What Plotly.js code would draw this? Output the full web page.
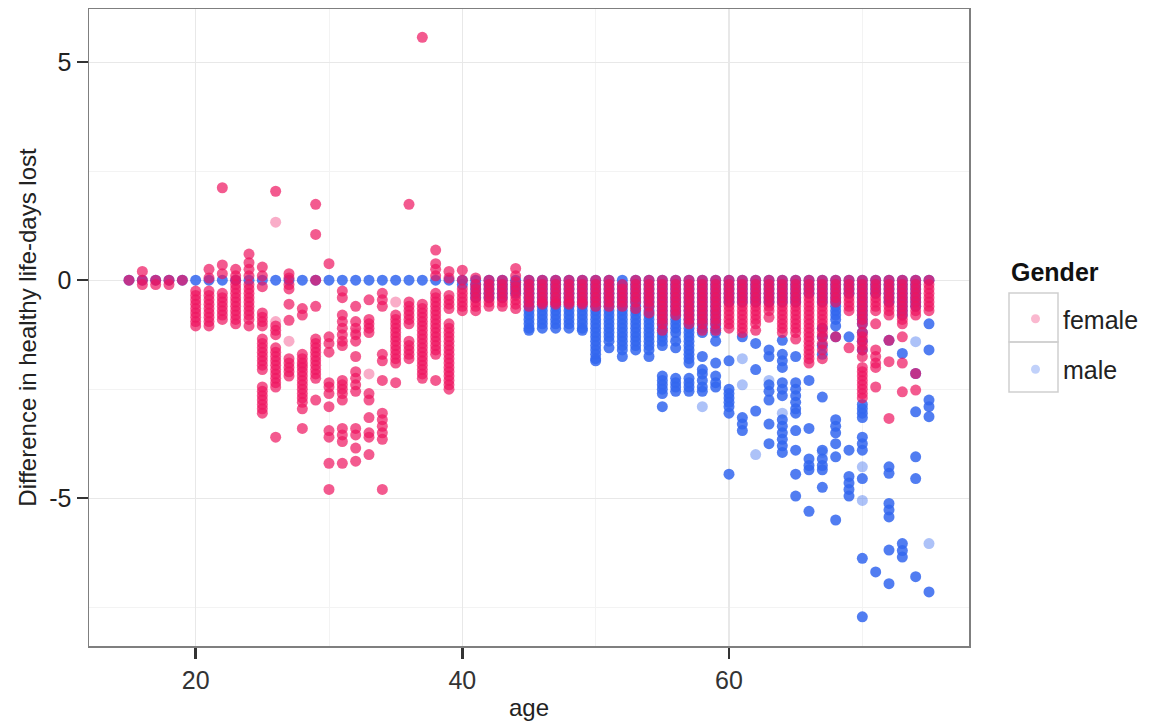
<!DOCTYPE html>
<html>
<head>
<meta charset="utf-8">
<script src="https://cdn.plot.ly/plotly-3.0.1.min.js"></script>
<style>html,body{margin:0;padding:0;background:#fff;}#chart{width:1154px;height:723px;}</style>
</head>
<body>
<div id="chart"></div>
<script>
// Ages (x categories, one column per integer age)
const ages = [15,16,17,18,19,20,21,22,23,24,25,26,27,28,29,30,31,32,33,34,35,36,37,38,39,40,41,42,43,44,45,46,47,48,49,50,51,52,53,54,55,56,57,58,59,60,61,62,63,64,65,66,67,68,69,70,71,72,73,74,75];

// Female values per age (same order as ages)
const femaleVals = [
  [0],
  [0.2,0,-0.1],
  [0,-0.1],
  [0,-0.1],
  [0],
  [-0.25,-0.35,-0.45,-0.55,-0.65,-0.75,-0.85,-0.95,-1.05],
  [0.25,0.05,-0.25,-0.35,-0.45,-0.55,-0.65,-0.75,-0.85,-0.95,-1.05],
  [2.12,0.35,0.15,-0.3,-0.4,-0.5,-0.6,-0.7,-0.8,-0.9],
  [0.25,0.1,0,-0.1,-0.2,-0.3,-0.4,-0.5,-0.6,-0.7,-0.8,-0.9,-1.0],
  [0.6,0.4,0.25,0.1,-0.1,-0.2,-0.3,-0.4,-0.5,-0.6,-0.7,-0.8,-0.9,-1.05],
  [0.3,0.1,-0.15,-0.75,-0.85,-0.95,-1.05,-1.35,-1.45,-1.55,-1.65,-1.75,-1.85,-1.95,-2.05,-2.45,-2.55,-2.65,-2.75,-2.85,-2.95,-3.05],
  [2.04,-1.05,-1.15,-1.25,-1.55,-1.65,-1.75,-1.85,-1.95,-2.05,-2.15,-2.25,-2.35,-2.45,-3.6],
  [0.15,0.05,-0.1,-0.2,-0.55,-0.92,-1.8,-1.9,-2.0,-2.1,-2.2],
  [-0.65,-0.8,-1.7,-1.8,-1.9,-2.0,-2.1,-2.2,-2.3,-2.4,-2.5,-2.6,-2.7,-2.8,-2.95,-3.4],
  [1.74,1.05,0,-0.6,-1.35,-1.45,-1.55,-1.65,-1.75,-1.85,-1.95,-2.05,-2.15,-2.25,-2.75],
  [0.38,-1.3,-1.45,-1.65,-2.35,-2.45,-2.6,-2.9,-3.45,-3.6,-4.2,-4.8],
  [-0.25,-0.4,-0.8,-0.95,-1.1,-1.25,-1.4,-1.5,-2.3,-2.4,-2.5,-2.6,-2.75,-3.4,-3.55,-3.7,-4.2],
  [-0.6,-0.95,-1.1,-1.25,-1.4,-1.75,-2.1,-2.25,-2.4,-2.55,-3.4,-3.55,-3.85,-4.15],
  [-0.45,-0.9,-1.0,-1.1,-1.2,-2.6,-2.75,-3.15,-3.5,-3.6,-4.0],
  [-0.3,-0.45,-0.6,-1.7,-1.85,-2.3,-3.05,-3.2,-3.35,-3.5,-3.65,-4.8],
  [-0.8,-0.9,-1.0,-1.1,-1.2,-1.3,-1.4,-1.5,-1.6,-1.7,-1.8,-1.9,-2.35],
  [1.74,-0.5,-0.6,-0.7,-0.8,-0.9,-1.0,-1.4,-1.5,-1.6,-1.7,-1.8],
  [5.57,-0.55,-0.65,-0.75,-0.85,-0.95,-1.05,-1.15,-1.25,-1.35,-1.45,-1.55,-1.65,-1.75,-1.85,-1.95,-2.05,-2.15,-2.25],
  [0.69,0.38,0.25,0.1,-0.3,-0.4,-0.5,-0.6,-0.7,-0.8,-0.9,-1.0,-1.1,-1.2,-1.3,-1.4,-1.5,-1.6,-1.7,-2.3],
  [0.2,0.05,-0.35,-0.45,-0.55,-0.65,-1.0,-1.1,-1.2,-1.3,-1.4,-1.5,-1.6,-1.7,-1.8,-1.9,-2.0,-2.1,-2.2,-2.3,-2.4,-2.5],
  [0.23,0,-0.2,-0.3,-0.4,-0.5,-0.6,-0.7],
  [0.05,-0.1,-0.2,-0.3,-0.4,-0.5,-0.6,-0.7],
  [0,-0.1,-0.2,-0.3,-0.4,-0.5,-0.6],
  [0,-0.1,-0.2,-0.3,-0.4,-0.5,-0.6],
  [0.27,0.1,-0.05,-0.15,-0.25,-0.35,-0.45,-0.55,-0.65],
  [0,-0.1,-0.2,-0.3,-0.4,-0.5,-0.6],
  [0,-0.1,-0.2,-0.3,-0.4,-0.5,-0.55],
  [0,-0.1,-0.2,-0.3,-0.4,-0.5,-0.55],
  [0,-0.1,-0.2,-0.3,-0.4,-0.5,-0.55],
  [0,-0.1,-0.2,-0.3,-0.4,-0.5,-0.55],
  [0,-0.1,-0.2,-0.3,-0.4,-0.5,-0.6],
  [0,-0.1,-0.2,-0.3,-0.4,-0.5,-0.6],
  [-0.1,-0.2,-0.3,-0.4,-0.5,-0.6],
  [0,-0.1,-0.2,-0.3,-0.4,-0.5,-0.65],
  [0,-0.1,-0.2,-0.3,-0.4,-0.5,-0.6,-0.75],
  [0,-0.1,-0.2,-0.3,-0.4,-0.5,-0.6,-0.7,-0.8,-0.9,-1.0,-1.15],
  [0,-0.1,-0.2,-0.3,-0.4,-0.5,-0.6,-0.7,-0.8],
  [0,-0.1,-0.2,-0.3,-0.4,-0.5,-0.6,-0.7,-0.8,-0.9,-1.0],
  [0,-0.1,-0.2,-0.3,-0.4,-0.5,-0.6,-0.7,-0.8,-0.9,-1.0,-1.15],
  [0,-0.1,-0.2,-0.3,-0.4,-0.5,-0.6,-0.7,-0.8,-0.9,-1.0,-1.15],
  [0,-0.1,-0.2,-0.3,-0.4,-0.5,-0.6,-0.7,-0.8,-0.9,-1.0,-1.1],
  [0,-0.1,-0.2,-0.3,-0.4,-0.5,-0.6,-0.7,-0.8,-0.9,-1.0,-1.1,-1.2],
  [0,-0.1,-0.2,-0.3,-0.4,-0.5,-0.6,-0.7,-0.8,-0.9,-1.0,-1.15],
  [0,-0.1,-0.2,-0.3,-0.4,-0.5,-0.6,-0.7,-0.85],
  [0,-0.1,-0.2,-0.3,-0.4,-0.5,-0.6,-0.7,-0.8,-0.9,-1.0,-1.1,-1.2],
  [0,-0.1,-0.2,-0.3,-0.4,-0.5,-0.6,-0.7,-0.8,-0.9,-1.0,-1.1,-1.2,-1.35],
  [0,-0.1,-0.2,-0.3,-0.4,-0.5,-0.6,-0.7,-0.8,-0.9,-1.0,-1.1,-1.2,-1.3,-1.4,-1.5,-1.6,-1.7,-1.8,-1.9],
  [0,-0.1,-0.2,-0.3,-0.4,-0.5,-0.6,-0.7,-0.8,-0.9,-1.0,-1.1,-1.2,-1.3,-1.45,-1.6,-1.8],
  [0,-0.1,-0.2,-0.3,-0.4,-0.5,-1.3],
  [0,-0.1,-0.2,-0.3,-0.4,-0.5,-0.6,-0.7,-1.55],
  [0,-0.1,-0.2,-0.3,-0.4,-0.5,-0.6,-0.7,-0.8,-0.9,-1.0,-1.2,-1.3,-1.4,-1.5,-1.6,-1.75,-2.0,-2.1,-2.2,-2.3,-2.4,-2.5,-2.6,-2.7],
  [0,-0.1,-0.2,-0.3,-0.4,-0.5,-0.6,-0.7,-1.0,-1.6,-1.75,-1.9,-2.0,-2.45],
  [0,-0.1,-0.2,-0.3,-0.4,-0.5,-0.6,-0.7,-0.8,-1.38,-1.87,-3.17],
  [0,-0.1,-0.2,-0.3,-0.4,-0.5,-0.6,-0.7,-0.8,-0.9,-1.0,-1.3,-1.9,-2.56],
  [0,-0.1,-0.2,-0.3,-0.4,-0.5,-0.6,-0.7,-0.8,-2.14,-2.52],
  [0,-0.1,-0.2,-0.3,-0.4,-0.5,-0.6,-0.7]
];

// Male values per age (same order as ages)
const maleVals = [
  [0],[0],[0],[0],[0],[0],[0],[0],[0],[0],
  [0],[0],[0],[0],[0],[0],[0],[0],[0],[0],
  [0],[0],[0],[0],[0],
  [0,-0.1],
  [0,-0.1,-0.2,-0.3,-0.4],
  [0,-0.1,-0.2,-0.3,-0.4],
  [0,-0.1,-0.2,-0.3,-0.4],
  [0,-0.1,-0.2,-0.3],
  [0,-0.1,-0.2,-0.3,-0.4,-0.5,-0.6,-0.7,-0.8,-0.9,-1.0,-1.1,-1.15],
  [0,-0.1,-0.2,-0.3,-0.4,-0.5,-0.6,-0.7,-0.8,-0.9,-1.0,-1.1],
  [0,-0.1,-0.2,-0.3,-0.4,-0.5,-0.6,-0.7,-0.8,-0.9,-1.0,-1.1],
  [0,-0.1,-0.2,-0.3,-0.4,-0.5,-0.6,-0.7,-0.8,-0.9,-1.0,-1.1],
  [0,-0.1,-0.2,-0.3,-0.4,-0.5,-0.6,-0.7,-0.8,-0.9,-1.0,-1.1,-1.15],
  [0,-0.1,-0.2,-0.3,-0.4,-0.5,-0.6,-0.7,-0.8,-0.9,-1.0,-1.1,-1.2,-1.3,-1.4,-1.5,-1.6,-1.7,-1.8,-1.85],
  [0,-0.1,-0.2,-0.3,-0.4,-0.5,-0.6,-0.7,-0.8,-0.9,-1.0,-1.1,-1.2,-1.3,-1.4,-1.55],
  [0,-0.1,-0.2,-0.3,-0.4,-0.5,-0.6,-0.7,-0.8,-0.9,-1.0,-1.1,-1.2,-1.3,-1.4,-1.5,-1.6,-1.75],
  [0,-0.1,-0.2,-0.3,-0.4,-0.5,-0.6,-0.7,-0.8,-0.9,-1.0,-1.1,-1.2,-1.3,-1.4,-1.5,-1.6],
  [0,-0.1,-0.2,-0.3,-0.4,-0.5,-0.6,-0.7,-0.8,-0.9,-1.0,-1.1,-1.2,-1.3,-1.4,-1.5,-1.6,-1.75],
  [0,-0.1,-0.2,-0.3,-0.4,-0.5,-0.6,-0.7,-0.8,-0.9,-1.0,-1.1,-1.2,-1.3,-1.4,-1.5,-2.2,-2.3,-2.4,-2.5,-2.6,-2.9],
  [0,-0.1,-0.2,-0.3,-0.4,-0.5,-0.6,-0.7,-0.8,-0.9,-1.0,-1.1,-1.2,-1.4,-1.55,-2.25,-2.35,-2.45,-2.55],
  [0,-0.1,-0.2,-0.3,-0.4,-0.5,-0.6,-0.7,-0.8,-0.9,-1.0,-1.1,-1.2,-1.3,-1.4,-1.5,-1.6,-1.7,-1.8,-1.9,-2.25,-2.35,-2.45,-2.55],
  [0,-0.1,-0.2,-0.3,-0.4,-0.5,-0.6,-0.7,-0.8,-0.9,-1.0,-1.1,-1.2,-1.75,-2.05,-2.15,-2.3,-2.45,-2.55],
  [0,-0.1,-0.2,-0.3,-0.4,-0.5,-0.6,-0.7,-0.8,-0.9,-1.0,-1.1,-1.2,-1.4,-1.9,-2.2,-2.35,-2.45],
  [0,-0.1,-0.2,-0.3,-0.4,-0.5,-1.85,-2.5,-2.6,-2.7,-2.8,-2.9,-3.05,-4.45],
  [0,-0.1,-0.2,-0.3,-0.4,-0.5,-1.3,-3.15,-3.3,-3.45],
  [0,-0.1,-0.2,-0.3,-0.4,-0.5,-1.45,-2.05,-3.0],
  [0,-0.1,-0.2,-0.3,-0.4,-0.5,-1.6,-1.75,-2.4,-2.55,-2.75,-3.3,-3.75],
  [0,-0.1,-0.2,-0.3,-0.4,-0.5,-1.38,-1.7,-1.85,-2.0,-2.35,-2.5,-2.65,-3.2,-3.35,-3.5,-3.65,-3.8,-3.95],
  [0,-0.1,-0.2,-0.3,-0.4,-0.5,-1.75,-2.35,-2.5,-2.65,-2.8,-2.95,-3.05,-3.45,-3.9,-4.45,-4.95],
  [0,-0.1,-0.2,-0.3,-2.3,-3.4,-4.1,-4.25,-4.35,-5.3],
  [0,-0.1,-0.2,-0.3,-0.4,-0.5,-1.1,-1.3,-1.5,-1.7,-2.68,-3.9,-4.1,-4.25,-4.35,-4.75],
  [0,-0.1,-0.2,-0.3,-0.4,-0.5,-0.6,-0.7,-0.8,-0.9,-1.05,-1.3,-3.2,-3.35,-3.5,-3.75,-4.05,-5.5],
  [0,-0.1,-0.2,-0.3,-1.3,-3.9,-4.5,-4.65,-4.8,-4.95],
  [0,-0.1,-0.2,-0.3,-0.4,-0.5,-0.6,-0.7,-0.8,-0.9,-1.0,-1.2,-1.4,-1.6,-2.85,-2.95,-3.05,-3.15,-3.6,-3.75,-3.9,-4.55,-6.38,-7.72],
  [0,-0.1,-0.2,-0.3,-6.69],
  [0,-0.1,-0.2,-0.3,-0.4,-0.5,-1.38,-4.28,-4.43,-5.12,-5.27,-5.43,-6.19,-6.96],
  [0,-0.1,-0.2,-0.3,-0.4,-0.5,-0.6,-0.7,-0.8,-1.68,-6.04,-6.2,-6.35],
  [0,-0.1,-0.2,-0.3,-0.4,-0.5,-0.6,-2.14,-3.02,-4.05,-4.55,-6.8],
  [0,-1.0,-1.6,-2.75,-2.9,-3.13,-7.15]
];

// Faint (low-alpha) points
const femaleLightAge = [26,26,27,28,32,33,35];
const femaleLightVal = [1.33,-0.95,-1.4,-1.95,-1.2,-2.15,-0.5];
const maleLightAge = [56,58,61,61,62,63,64,67,70,70,74,75];
const maleLightVal = [-1.3,-2.9,-1.8,-2.4,-4.0,-2.3,-3.05,-3.95,-4.28,-5.05,-1.41,-6.04];

// Axis ticks
const xTickVals = [20,40,60];
const xTickText = ['20','40','60'];
const yTickVals = [-5,0,5];
const yTickText = ['-5','0','5'];

const FEMALE = '#EE1460';
const MALE = '#3366EE';

function flatten(vals){
  const xs=[], ys=[];
  vals.forEach((arr,i)=>arr.forEach(v=>{xs.push(ages[i]); ys.push(v);}));
  return {xs, ys};
}
const f = flatten(femaleVals);
const m = flatten(maleVals);

const traces = [
  {x:m.xs, y:m.ys, type:'scatter', mode:'markers', showlegend:false,
   marker:{color:MALE, size:11, opacity:0.85, line:{width:0}}},
  {x:maleLightAge, y:maleLightVal, type:'scatter', mode:'markers', showlegend:false,
   marker:{color:MALE, size:11, opacity:0.4, line:{width:0}}},
  {x:f.xs, y:f.ys, type:'scatter', mode:'markers', showlegend:false,
   marker:{color:FEMALE, size:11, opacity:0.7, line:{width:0}}},
  {x:femaleLightAge, y:femaleLightVal, type:'scatter', mode:'markers', showlegend:false,
   marker:{color:FEMALE, size:11, opacity:0.35, line:{width:0}}},
  // legend entries
  {x:[null], y:[null], type:'scatter', mode:'markers', name:'female', legendgroup:'f',
   marker:{color:FEMALE, size:9, opacity:0.3}},
  {x:[null], y:[null], type:'scatter', mode:'markers', name:'male', legendgroup:'m',
   marker:{color:MALE, size:9, opacity:0.3}}
];

const FONT = 'Liberation Sans, Arial, Helvetica, sans-serif';
const L=89, R=969, T=9, B=646;
const W=R-L, H=B-T;
function px(x){return (x-L)/W;}
function py(y){return (B-y)/H;}

const layout = {
  width:1154, height:723,
  margin:{l:L, r:1154-R, t:T, b:723-B},
  paper_bgcolor:'#ffffff', plot_bgcolor:'#ffffff',
  font:{family:FONT, size:24, color:'#222'},
  xaxis:{
    range:[12,78], tickvals:xTickVals, ticktext:xTickText,
    ticks:'outside', ticklen:11, tickwidth:2.5, tickcolor:'#333',
    tickfont:{size:25, color:'#333'},
    showgrid:true, gridcolor:'#e8e8e8', gridwidth:1.2,
    minor:{tickvals:[10,30,50,70], showgrid:true, gridcolor:'#f3f3f3', gridwidth:1, ticks:''},
    zeroline:false, showline:true, linecolor:'#7f7f7f', linewidth:1.5, mirror:true,
    title:{text:'age', font:{size:24, color:'#222'}, standoff:6}
  },
  yaxis:{
    range:[-8.39,6.22], tickvals:yTickVals, ticktext:yTickText,
    ticks:'outside', ticklen:11, tickwidth:2.5, tickcolor:'#333',
    tickfont:{size:25, color:'#222'},
    showgrid:true, gridcolor:'#e8e8e8', gridwidth:1.2,
    minor:{tickvals:[-7.5,-2.5,2.5], showgrid:true, gridcolor:'#f3f3f3', gridwidth:1, ticks:''},
    zeroline:false, showline:true, linecolor:'#7f7f7f', linewidth:1.5, mirror:true,
    title:{text:'Difference in healthy life-days lost', font:{size:24, color:'#222'}, standoff:6}
  },
  legend:{
    x:px(1008), y:py(296), xanchor:'left', yanchor:'top',
    bgcolor:'rgba(0,0,0,0)', borderwidth:0,
    font:{size:25, color:'#222'},
    traceorder:'grouped', tracegroupgap:15, itemwidth:45
  },
  annotations:[
    {text:'<b>Gender</b>', xref:'paper', yref:'paper', x:px(1009), y:py(272),
     xanchor:'left', yanchor:'middle', showarrow:false, font:{size:25, color:'#111'}}
  ],
  shapes:[
    {type:'rect', xref:'paper', yref:'paper', x0:px(1009), x1:px(1058), y0:py(342), y1:py(293),
     line:{color:'#cfcfcf', width:1.5}, fillcolor:'rgba(255,255,255,0)', layer:'below'},
    {type:'rect', xref:'paper', yref:'paper', x0:px(1009), x1:px(1058), y0:py(392), y1:py(342),
     line:{color:'#cfcfcf', width:1.5}, fillcolor:'rgba(255,255,255,0)', layer:'below'}
  ]
};

Plotly.newPlot('chart', traces, layout, {displayModeBar:false, staticPlot:true});
</script>
</body>
</html>
